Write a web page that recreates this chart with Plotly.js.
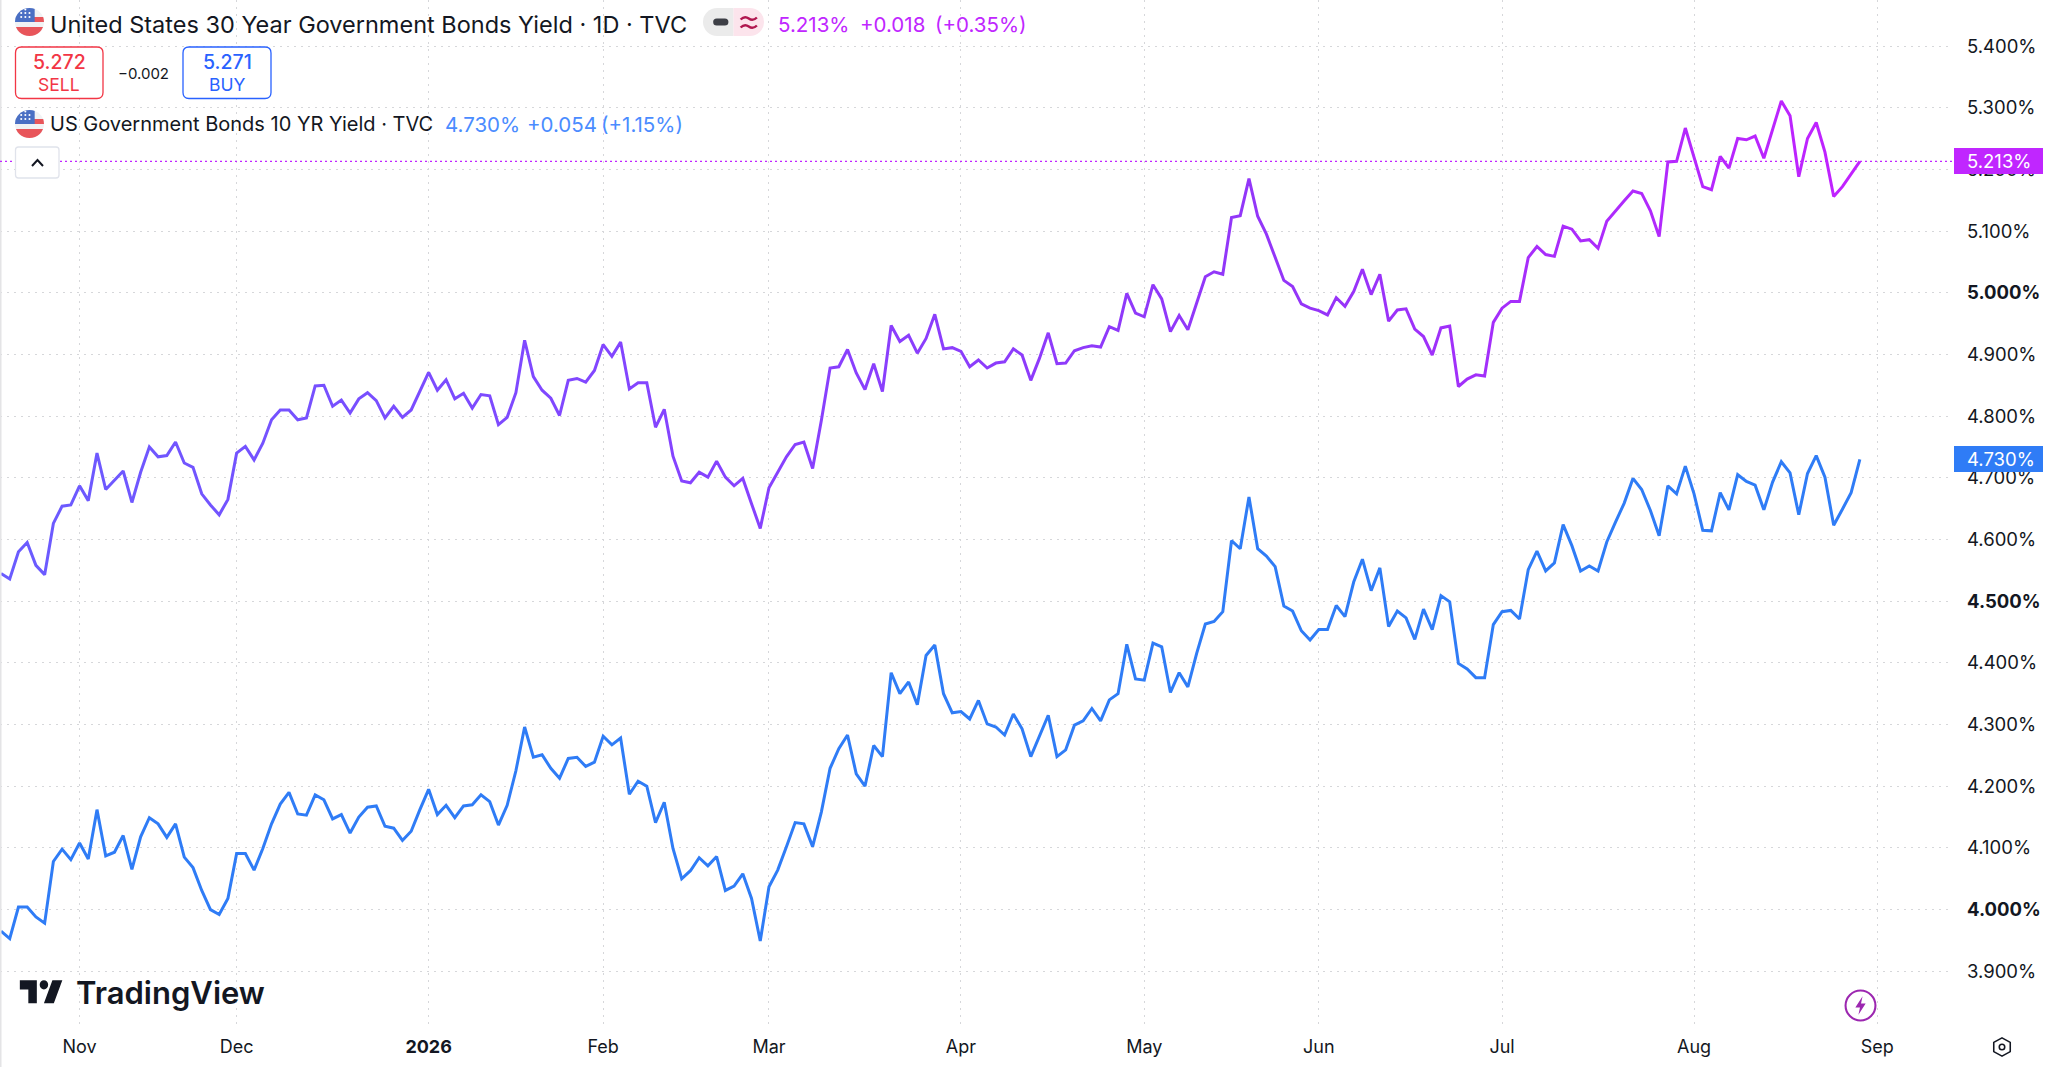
<!DOCTYPE html>
<html>
<head>
<meta charset="utf-8">
<title>US 30Y vs 10Y yield</title>
<script src="https://cdn.plot.ly/plotly-3.0.1.min.js"></script>
<style>
	html, body { margin: 0; padding: 0; background: #fff; }
	#chart { width: 2048px; height: 1067px; }
</style>
</head>
<body>
<div id="chart"></div>
<script>
'use strict';

// daily closes, one per trading day
var yield30 = [
	4.545, 4.536, 4.580, 4.595, 4.558, 4.543, 4.626, 4.654, 4.656, 4.687,
	4.663, 4.740, 4.681, 4.696, 4.711, 4.660, 4.709, 4.750, 4.734, 4.736,
	4.758, 4.724, 4.717, 4.674, 4.656, 4.640, 4.665, 4.740, 4.751, 4.729,
	4.756, 4.794, 4.810, 4.810, 4.794, 4.797, 4.849, 4.850, 4.816, 4.826,
	4.805, 4.828, 4.838, 4.825, 4.797, 4.816, 4.798, 4.810, 4.841, 4.871,
	4.842, 4.859, 4.828, 4.837, 4.813, 4.835, 4.833, 4.786, 4.798, 4.838,
	4.923, 4.864, 4.842, 4.829, 4.801, 4.858, 4.861, 4.855, 4.874, 4.916,
	4.897, 4.920, 4.844, 4.854, 4.854, 4.782, 4.811, 4.735, 4.695, 4.692,
	4.709, 4.701, 4.727, 4.701, 4.687, 4.699, 4.658, 4.618, 4.684, 4.709,
	4.734, 4.754, 4.758, 4.715, 4.793, 4.878, 4.880, 4.908, 4.870, 4.843,
	4.885, 4.840, 4.947, 4.921, 4.931, 4.902, 4.926, 4.965, 4.909, 4.911,
	4.905, 4.880, 4.891, 4.878, 4.886, 4.888, 4.909, 4.899, 4.858, 4.894,
	4.935, 4.885, 4.886, 4.906, 4.911, 4.914, 4.912, 4.945, 4.939, 4.999,
	4.967, 4.961, 5.013, 4.990, 4.937, 4.963, 4.940, 4.983, 5.026, 5.034,
	5.030, 5.122, 5.125, 5.185, 5.124, 5.095, 5.057, 5.020, 5.010, 4.982,
	4.975, 4.971, 4.964, 4.992, 4.978, 5.002, 5.038, 4.997, 5.030, 4.954,
	4.972, 4.974, 4.941, 4.929, 4.899, 4.943, 4.946, 4.848, 4.860, 4.867,
	4.865, 4.952, 4.975, 4.986, 4.986, 5.057, 5.075, 5.062, 5.059, 5.108,
	5.103, 5.084, 5.086, 5.072, 5.116, 5.133, 5.149, 5.165, 5.161, 5.133,
	5.091, 5.212, 5.213, 5.267, 5.219, 5.172, 5.167, 5.221, 5.202, 5.250,
	5.248, 5.254, 5.218, 5.265, 5.311, 5.287, 5.188, 5.250, 5.276, 5.228,
	5.156, 5.172, 5.192, 5.213
];

var yield10 = [
	3.965, 3.953, 4.004, 4.004, 3.988, 3.978, 4.078, 4.098, 4.081, 4.108,
	4.082, 4.162, 4.087, 4.093, 4.120, 4.065, 4.118, 4.149, 4.139, 4.117,
	4.139, 4.085, 4.068, 4.031, 4.000, 3.992, 4.018, 4.091, 4.091, 4.064,
	4.099, 4.139, 4.171, 4.190, 4.155, 4.153, 4.186, 4.178, 4.147, 4.154,
	4.124, 4.150, 4.166, 4.168, 4.135, 4.132, 4.112, 4.127, 4.162, 4.195,
	4.154, 4.169, 4.149, 4.168, 4.170, 4.186, 4.175, 4.137, 4.169, 4.225,
	4.296, 4.247, 4.251, 4.229, 4.213, 4.245, 4.247, 4.232, 4.239, 4.281,
	4.267, 4.278, 4.187, 4.208, 4.200, 4.141, 4.174, 4.099, 4.050, 4.063,
	4.084, 4.071, 4.086, 4.031, 4.038, 4.058, 4.018, 3.949, 4.037, 4.064,
	4.102, 4.141, 4.139, 4.102, 4.158, 4.229, 4.261, 4.283, 4.220, 4.200,
	4.266, 4.248, 4.384, 4.350, 4.369, 4.332, 4.412, 4.429, 4.350, 4.319,
	4.321, 4.309, 4.339, 4.301, 4.296, 4.283, 4.317, 4.293, 4.248, 4.282,
	4.315, 4.248, 4.259, 4.299, 4.306, 4.326, 4.306, 4.340, 4.350, 4.430,
	4.374, 4.372, 4.432, 4.426, 4.352, 4.384, 4.361, 4.415, 4.463, 4.467,
	4.483, 4.598, 4.585, 4.669, 4.585, 4.573, 4.556, 4.492, 4.484, 4.452,
	4.437, 4.454, 4.454, 4.493, 4.475, 4.531, 4.568, 4.517, 4.554, 4.459,
	4.484, 4.473, 4.438, 4.487, 4.454, 4.509, 4.499, 4.399, 4.390, 4.376,
	4.376, 4.462, 4.483, 4.485, 4.471, 4.551, 4.581, 4.549, 4.562, 4.624,
	4.590, 4.549, 4.557, 4.549, 4.596, 4.628, 4.659, 4.699, 4.681, 4.647,
	4.606, 4.687, 4.674, 4.719, 4.674, 4.615, 4.614, 4.676, 4.648, 4.705,
	4.694, 4.688, 4.648, 4.693, 4.726, 4.708, 4.640, 4.707, 4.736, 4.701,
	4.623, 4.649, 4.676, 4.730
];

// the time axis has no gaps, so bars are numbered instead of dated
var monthBars = [9, 27, 49, 69, 88, 110, 131, 151, 172, 194, 215];
var monthLabels = ['Nov', 'Dec', '<b>2026</b>', 'Feb', 'Mar', 'Apr', 'May', 'Jun', 'Jul', 'Aug', 'Sep'];

var priceTicks = [3.9, 4.0, 4.1, 4.2, 4.3, 4.4, 4.5, 4.6, 4.7, 4.8, 4.9, 5.0, 5.1, 5.2, 5.3, 5.4];
var priceLabels = ['3.900%', '<b>4.000%</b>', '4.100%', '4.200%', '4.300%', '4.400%', '<b>4.500%</b>', '4.600%',
	'4.700%', '4.800%', '4.900%', '<b>5.000%</b>', '5.100%', '5.200%', '5.300%', '5.400%'];

var last30 = yield30[yield30.length - 1];
var last10 = yield10[yield10.length - 1];

var plotW = 1948, plotH = 1024;
var uiFont = 'Inter, Roboto, sans-serif';
var ink = '#131722', magenta = '#c026ff', blue = '#2f7cf6', red = '#f23645', buyBlue = '#2962ff';

function px(x) { return x / plotW; }
function py(y) { return 1 - y / plotH; }

function note(text, x, y, size, color, anchor, weight) {
	return {
		text: text, xref: 'paper', yref: 'paper', x: px(x), y: py(y), showarrow: false,
		xanchor: anchor || 'left', yanchor: 'middle', borderpad: 0,
		font: { family: uiFont, size: size, color: color, weight: weight || 400 }
	};
}

// rounded box in page pixels
function roundBox(x0, y0, x1, y1, r, stroke, fill, width) {
	var p = function (x, y) { return px(x) + ' ' + py(y); };
	var d = 'M ' + p(x0 + r, y0) + ' L ' + p(x1 - r, y0) + ' Q ' + p(x1, y0) + ' ' + p(x1, y0 + r) +
		' L ' + p(x1, y1 - r) + ' Q ' + p(x1, y1) + ' ' + p(x1 - r, y1) +
		' L ' + p(x0 + r, y1) + ' Q ' + p(x0, y1) + ' ' + p(x0, y1 - r) +
		' L ' + p(x0, y0 + r) + ' Q ' + p(x0, y0) + ' ' + p(x0 + r, y0) + ' Z';
	return { type: 'path', xref: 'paper', yref: 'paper', path: d, fillcolor: fill, line: { color: stroke, width: width } };
}

function icon(svg, x, y, w, h) {
	return {
		source: 'data:image/svg+xml,' + encodeURIComponent(svg), xref: 'paper', yref: 'paper',
		x: px(x), y: py(y), sizex: w / plotW, sizey: h / plotH, xanchor: 'left', yanchor: 'top', sizing: 'stretch', layer: 'above'
	};
}

var flagSvg = '<svg xmlns="http://www.w3.org/2000/svg" viewBox="0 0 28 28"><clipPath id="c"><circle cx="14" cy="14" r="14"/></clipPath>' +
	'<g clip-path="url(#c)"><rect width="28" height="28" fill="#f1f2f4"/><rect y="9" x="14" width="14" height="5" fill="#e8555a"/>' +
	'<rect y="19" width="28" height="9" fill="#e8555a"/><rect width="19" height="14" fill="#4a6fc4"/>' +
	'<g fill="#fff"><circle cx="6" cy="5" r="1"/><circle cx="10" cy="5" r="1"/><circle cx="14" cy="5" r="1"/>' +
	'<circle cx="6" cy="9" r="1"/><circle cx="10" cy="9" r="1"/><circle cx="14" cy="9" r="1"/><circle cx="10" cy="1.5" r="1"/></g></g></svg>';

var logoSvg = '<svg xmlns="http://www.w3.org/2000/svg" viewBox="0 0 36 28"><path fill="#131722" d="M14 6H2v6h6v9h6V6zm12 15h-7l6-15h7l-6 15zM19 12a3 3 0 1 0 0-6 3 3 0 0 0 0 6z"/></svg>';

var boltSvg = '<svg xmlns="http://www.w3.org/2000/svg" viewBox="0 0 32 32"><circle cx="16" cy="16" r="14.5" fill="#fff" stroke="#9c27b0" stroke-width="2"/>' +
	'<path d="M18 7 L11 18 H15.5 L14 25 L21 14 H16.5 Z" fill="#9c27b0"/></svg>';

var gearSvg = '<svg xmlns="http://www.w3.org/2000/svg" viewBox="0 0 24 24" fill="none" stroke="#131722" stroke-width="1.7"><path d="M12 2 L21 7 V17 L12 22 L3 17 V7 Z" stroke-linejoin="round"/><circle cx="12" cy="12" r="3"/></svg>';

var pillSvg = '<svg xmlns="http://www.w3.org/2000/svg" viewBox="0 0 60 28"><path d="M14 0H30V28H14A14 14 0 0 1 14 0Z" fill="#ebebeb"/><path d="M30 0H46A14 14 0 0 1 46 28H30Z" fill="#fce4ec"/>' +
	'<rect x="10" y="10.5" width="15" height="7" rx="3.5" fill="#3d3f46"/>' +
	'<path d="M37 11.5 Q41 7.5 45 10.5 T53 9.5 M37 19.5 Q41 15.5 45 18.5 T53 17.5" fill="none" stroke="#b0174f" stroke-width="2.4"/></svg>';

var traces = [
	{
		y: yield30, x0: 0, dx: 1, type: 'scatter', mode: 'lines', name: 'US 30Y', hoverinfo: 'skip',
		line: { color: '#8a40ff', width: 3, shape: 'linear' }
	},
	{
		y: yield10, x0: 0, dx: 1, type: 'scatter', mode: 'lines', name: 'US 10Y', hoverinfo: 'skip',
		line: { color: blue, width: 3, shape: 'linear' }
	}
];

var shapes = [
	{ type: 'rect', xref: 'paper', yref: 'paper', x0: 0, x1: px(1.5), y0: py(1067), y1: 1, fillcolor: '#e4e4e6', line: { width: 0 } },
	// last price line and its tags
	{ type: 'line', xref: 'paper', yref: 'y', x0: 0, x1: px(1954), y0: last30, y1: last30, line: { color: magenta, width: 1.3, dash: '2px,3px' } },
	{ type: 'rect', xref: 'paper', yref: 'paper', x0: px(1954), x1: px(2043), y0: py(174), y1: py(148), fillcolor: magenta, line: { width: 0 } },
	{ type: 'rect', xref: 'paper', yref: 'paper', x0: px(1954), x1: px(2043), y0: py(472), y1: py(446), fillcolor: blue, line: { width: 0 } },
	roundBox(15.5, 47, 103, 98.5, 6, red, '#ffffff', 1.3),
	roundBox(183, 47, 271, 98.5, 6, buyBlue, '#ffffff', 1.3),
	roundBox(15.5, 147, 59, 178, 3, '#e0e3eb', '#ffffff', 1.3),
	{ type: 'path', xref: 'paper', yref: 'paper', path: 'M ' + px(32) + ' ' + py(166) + ' L ' + px(37.5) + ' ' + py(160) + ' L ' + px(43) + ' ' + py(166), line: { color: ink, width: 2 } }
];

var annotations = [
	note('United States 30 Year Government Bonds Yield · 1D · TVC', 49, 24, 23.5, ink),
	note('5.213%', 777, 24, 20.5, magenta),
	note('+0.018', 859, 24, 20.5, magenta),
	note('(+0.35%)', 934, 24, 20.5, magenta),
	note('5.272', 59, 62, 19.5, red, 'center', 500),
	note('SELL', 59, 84, 17.5, red, 'center'),
	note('−0.002', 143, 73, 15, ink, 'center'),
	note('5.271', 227, 62, 19.5, buyBlue, 'center', 500),
	note('BUY', 227, 84, 17.5, buyBlue, 'center'),
	note('US Government Bonds 10 YR Yield · TVC', 49, 124, 20, ink),
	note('4.730%', 444, 124, 20.5, '#4a8cff'),
	note('+0.054', 526, 124, 20.5, '#4a8cff'),
	note('(+1.15%)', 600, 124, 20.5, '#4a8cff'),
	note(last30.toFixed(3) + '%', 1966, 161, 18.5, '#ffffff'),
	note(last10.toFixed(3) + '%', 1966, 459, 18.5, '#ffffff'),
	note('TradingView', 75, 992, 31, ink, 'left', 600)
];

var layout = {
	width: 2048, height: 1067,
	margin: { l: 0, r: 100, t: 0, b: 43, pad: 0 },
	paper_bgcolor: '#ffffff', plot_bgcolor: '#ffffff',
	showlegend: false,
	font: { family: uiFont, color: ink },
	xaxis: {
		range: [-0.115, 223.1], tickmode: 'array', tickvals: monthBars, ticktext: monthLabels,
		showgrid: true, gridcolor: '#d6d7da', griddash: '2px,5px', gridwidth: 1,
		zeroline: false, showline: false, ticks: '', ticklabelstandoff: 10,
		tickfont: { family: uiFont, size: 18, color: ink }
	},
	yaxis: {
		side: 'right', range: [3.8145, 5.4746], tickmode: 'array', tickvals: priceTicks, ticktext: priceLabels,
		showgrid: true, gridcolor: '#d6d7da', griddash: '2px,5px', gridwidth: 1,
		zeroline: false, showline: false, ticks: '', ticklabelstandoff: 18,
		tickfont: { family: uiFont, size: 18.5, color: ink }
	},
	shapes: shapes,
	annotations: annotations,
	images: [
		icon(flagSvg, 15, 8, 29, 28),
		icon(flagSvg, 15, 110, 29, 28),
		icon(pillSvg, 703, 8, 61, 28),
		icon(logoSvg, 17, 971, 51, 43),
		icon(boltSvg, 1844, 989, 33, 33),
		icon(gearSvg, 1991, 1036, 22, 22)
	]
};

Plotly.newPlot('chart', traces, layout, { displayModeBar: false, responsive: false }).then(function () {
	// the 30Y line fades from violet to magenta, plotly has no option for that
	var ns = 'http://www.w3.org/2000/svg';
	var defs = document.querySelector('.main-svg defs');
	var grad = document.createElementNS(ns, 'linearGradient');
	grad.setAttribute('id', 'fade30');
	[[0, '#6a5cff'], [0.35, '#8444ff'], [0.7, '#9435f8'], [1, '#c222ff']].forEach(function (s) {
		var stop = document.createElementNS(ns, 'stop');
		stop.setAttribute('offset', s[0]);
		stop.setAttribute('stop-color', s[1]);
		grad.appendChild(stop);
	});
	defs.appendChild(grad);
	document.querySelector('.scatterlayer .trace .js-line').style.stroke = 'url(#fade30)';
});
</script>
</body>
</html>
